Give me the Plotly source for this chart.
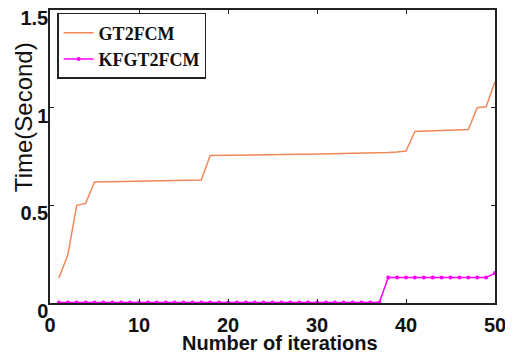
import plotly.graph_objects as go

iterations = list(range(1, 51))
gt2fcm = [0.128, 0.245, 0.50, 0.51, 0.62, 0.621, 0.622, 0.623, 0.624, 0.625,
          0.626, 0.627, 0.628, 0.629, 0.629, 0.630, 0.630, 0.755, 0.756, 0.757,
          0.758, 0.758, 0.759, 0.759, 0.760, 0.760, 0.760, 0.761, 0.761, 0.762,
          0.762, 0.763, 0.763, 0.764, 0.765, 0.766, 0.768, 0.770, 0.773, 0.778,
          0.878, 0.880, 0.881, 0.882, 0.884, 0.886, 0.888, 1.000, 1.005, 1.133]
kfgt2fcm = [0.002] * 37 + [0.13] * 12 + [0.153]

x_ticks = [0, 10, 20, 30, 40, 50]
y_ticks = [0, 0.5, 1, 1.5]
y_tick_labels = ["0", "0.5", "1", "1.5"]

fig = go.Figure()
fig.add_trace(go.Scatter(x=iterations, y=gt2fcm, mode="lines", name="GT2FCM",
                         line=dict(color="#F2875A", width=1.5)))
fig.add_trace(go.Scatter(x=iterations, y=kfgt2fcm, mode="lines+markers", name="KFGT2FCM",
                         line=dict(color="#FF00FF", width=1.5),
                         marker=dict(color="#FF00FF", size=4, symbol="circle")))

axis_common = dict(showline=True, linecolor="#222222", linewidth=1.5, mirror="ticks",
                   ticks="inside", ticklen=4, tickcolor="#222222", showgrid=False,
                   zeroline=False, automargin=False, ticklabeloverflow="allow",
                   tickfont=dict(family="Liberation Sans", size=20, color="#111111", weight="bold"))

fig.update_layout(
    width=505, height=348,
    margin=dict(l=42, r=18, t=2, b=53),
    paper_bgcolor="white", plot_bgcolor="white",
    showlegend=True,
    legend=dict(x=0.016, y=0.99, xanchor="left", yanchor="top",
                bordercolor="#222222", borderwidth=1.5, bgcolor="white",
                font=dict(family="Liberation Serif", size=18, color="#111111", weight="bold"),
                tracegroupgap=0, itemwidth=30),
    xaxis=dict(range=[0, 50], tickvals=x_ticks, ticklabelstandoff=3, **axis_common),
    yaxis=dict(range=[0, 1.5], tickvals=y_ticks, ticktext=y_tick_labels,
               ticklabelshift=8, ticklabelstandoff=-4, **axis_common),
    annotations=[
        dict(text="Number of iterations", xref="paper", yref="paper", x=0.517, y=-0.137,
             xanchor="center", yanchor="middle", showarrow=False,
             font=dict(family="Liberation Sans", size=20, color="#111111", weight="bold")),
        dict(text="Time(Second)", xref="paper", yref="paper", x=-0.058, y=0.635,
             xanchor="center", yanchor="middle", showarrow=False, textangle=-90,
             font=dict(family="Liberation Sans", size=24, color="#111111")),
    ],
)

fig.write_html("out.html")
